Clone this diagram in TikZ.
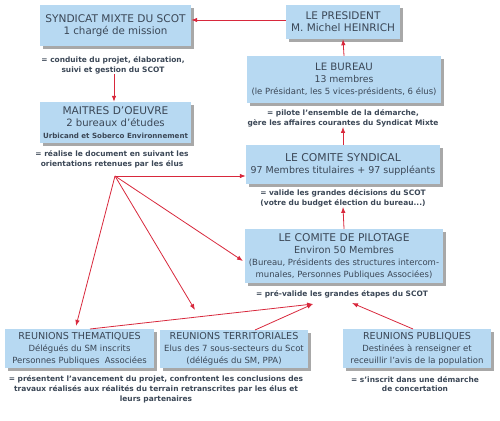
\documentclass[tikz,border=0pt]{standalone}
\usepackage{fontspec}
\setmainfont{DejaVu Sans}
\usetikzlibrary{shadows,arrows.meta}
\definecolor{boxfill}{HTML}{B7D9F2}
\definecolor{shad}{HTML}{A8A8A8}
\definecolor{txt}{HTML}{3B4756}
\definecolor{arr}{HTML}{D8283C}
\newcommand{\fs}[2]{\fontsize{#1}{#2}\selectfont}
\begin{document}
\begin{tikzpicture}[x=1pt,y=-1pt,
  box/.style={fill=boxfill, draw=none, inner sep=0pt, align=center, text=txt,
    drop shadow={shadow xshift=3pt, shadow yshift=-3pt, fill=shad, opacity=1}},
  note/.style={inner sep=0pt, align=center, text=txt, font=\bfseries\fontsize{7.45}{9.8}\selectfont},
  con/.style={draw=arr, line width=0.8pt, -{Latex[length=6pt,width=4.5pt]}}]
\useasboundingbox (0,0) rectangle (500,420);

% boxes
\node[box, minimum width=151, minimum height=41] (syn) at (115.5,25.5)
  {\fs{10.6}{12.3}SYNDICAT MIXTE DU SCOT\\\fs{10.3}{12.3}1 chargé de mission};
\node[box, minimum width=114, minimum height=34] (pres) at (343,22)
  {\fs{10.5}{11}LE PRESIDENT\\\fs{10.5}{11}M. Michel HEINRICH};
\node[box, minimum width=194, minimum height=47] (bur) at (344,79.5)
  {\fs{10.2}{11.5}LE BUREAU\\\fs{9.3}{11.5}13 membres\\\fs{8.5}{11.5}(le Présidant, les 5 vices-présidents, 6 élus)};
\node[box, minimum width=151, minimum height=41] (moe) at (115.5,122.5)
  {\fs{10.6}{11.5}MAITRES D’OEUVRE\\\fs{10.1}{11.5}2 bureaux d’études\\\bfseries\fs{7.1}{11.5}Urbicand et Soberco Environnement};
\node[box, minimum width=194, minimum height=39] (cs) at (343,164.5)
  {\fs{10.8}{13}LE COMITE SYNDICAL\\\fs{9.5}{13}97 Membres titulaires + 97 suppléants};
\node[box, minimum width=198, minimum height=54] (cp) at (344,256)
  {\fs{10.7}{11}LE COMITE DE PILOTAGE\\\fs{9.7}{11}Environ 50 Membres\\\fs{8.5}{11}(Bureau, Présidents des structures intercom-\\\fs{8.5}{11}munales, Personnes Publiques Associées)};
\node[box, minimum width=149, minimum height=39] (rt) at (79.5,348.5)
  {\fs{9.6}{10}REUNIONS THEMATIQUES\\\fs{8.5}{10}Délégués du SM inscrits\\\fs{8.5}{10}Personnes Publiques~~Associées};
\node[box, minimum width=148, minimum height=38] (rterr) at (234,348.5)
  {\fs{9.6}{10}REUNIONS TERRITORIALES\\\fs{8.5}{10}Elus des 7 sous-secteurs du Scot\\\fs{8.5}{10}(délégués du SM, PPA)};
\node[box, minimum width=148, minimum height=39] (rp) at (417,348.5)
  {\fs{9.6}{10}REUNIONS PUBLIQUES\\\fs{8.5}{10}Destinées à renseigner et\\\fs{8.5}{10}receuillir l’avis de la population};

% notes
\node[note] (nsyn) at (113,65) {= conduite du projet, élaboration,\\suivi et gestion du SCOT};
\node[note] (nbur) at (343,118) {= pilote l’ensemble de la démarche,\\gère les affaires courantes du Syndicat Mixte};
\node[note] (nmoe) at (112,159) {= réalise le document en suivant les\\orientations retenues par les élus};
\node[note] (ncs) at (343,198) {= valide les grandes décisions du SCOT\\(votre du budget élection du bureau...)};
\node[note] (ncp) at (342,294) {= pré-valide les grandes étapes du SCOT};
\node[note] (nrt) at (156,389) {= présentent l’avancement du projet, confrontent les conclusions des\\travaux réalisés aux réalités du terrain retranscrites par les élus et\\leurs partenaires};
\node[note] (nrp) at (415,384) {= s’inscrit dans une démarche\\de concertation};

% coordinates
\coordinate (hub) at (115,176);
\coordinate (tcp) at (243,261);
\coordinate (tterr) at (195,310);
\coordinate (tthem) at (76,326);
\coordinate (pv1) at (313,304);
\coordinate (pv2) at (352,303);
\coordinate (sthem) at (90,329);
\coordinate (sterr) at (255,330);
\coordinate (spub) at (413,329);

% connectors
\draw[con] (pres.west |- 0,20) -- (syn.east |- 0,20);
\draw[con] (bur.north) -- (pres.south);
\draw[con] (nsyn.south -| 114,0) -- (moe.north -| 114,0);
\draw[con] (cs.north) -- (nbur.south);
\draw[con] (cp.north) -- (ncs.south);
\draw[con] (hub) -- (hub -| cs.west);
\draw[con] (hub) -- (tcp);
\draw[con] (hub) -- (tterr);
\draw[con] (hub) -- (tthem);
\draw[con] (sthem) -- (pv1);
\draw[con] (sterr) -- (pv1);
\draw[con] (spub) -- (pv2);
\end{tikzpicture}
\end{document}
